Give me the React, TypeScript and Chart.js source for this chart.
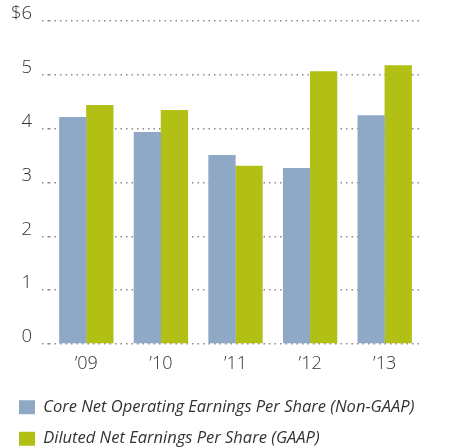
import { useEffect, useRef } from 'react';
import { Chart, registerables } from 'chart.js';

Chart.register(...registerables);

const categories = ['\u201909', '\u201910', '\u201911', '\u201912', '\u201913'];
const coreEPS = [4.22, 3.94, 3.51, 3.27, 4.25];
const dilutedEPS = [4.44, 4.35, 3.31, 5.07, 5.18];
const yTickLabels = ['0', '1', '2', '3', '4', '5', '$6'];
const seriesNames = [
  'Core Net Operating Earnings Per Share (Non-GAAP)',
  'Diluted Net Earnings Per Share (GAAP)',
];

export default function App() {
  const ref = useRef<HTMLCanvasElement | null>(null);

  useEffect(() => {
    document.body.style.margin = '0';
    document.body.style.overflow = 'hidden';
    const canvas = ref.current;
    if (!canvas) return;
    const dotted = [1.5, 4];
    const gridColor = '#8a8a8a';
    const chart = new Chart(canvas, {
      type: 'bar',
      data: {
        labels: categories,
        datasets: [
          { label: seriesNames[0], data: coreEPS, backgroundColor: '#8fa8c6', borderWidth: 0 },
          { label: seriesNames[1], data: dilutedEPS, backgroundColor: '#b2bf15', borderWidth: 0 },
        ],
      },
      options: {
        animation: false,
        responsive: false,
        devicePixelRatio: 1,
        datasets: { bar: { categoryPercentage: 0.725, barPercentage: 1.01 } },
        layout: { padding: { top: 21, left: 4, right: 41, bottom: 0 } },
        plugins: {
          tooltip: { enabled: false },
          legend: {
            position: 'bottom',
            align: 'start',
            labels: {
              boxWidth: 16,
              boxHeight: 14,
              padding: 15,
              color: '#333',
              font: { family: 'Open Sans', size: 16.5, style: 'italic', weight: 400 },
            },
          },
        },
        scales: {
          x: {
            grid: { display: false, drawTicks: false },
            border: { display: false },
            ticks: {
              color: '#333',
              padding: 9,
              font: { family: 'Open Sans', size: 18, weight: 300 },
            },
            afterFit: (scale: any) => {
              scale.height = 40;
            },
          },
          y: {
            min: 0,
            max: 6,
            border: { display: false, dash: dotted },
            grid: {
              color: gridColor,
              lineWidth: 1.5,
              drawTicks: true,
              tickLength: 7,
              tickBorderDash: dotted,
              tickColor: gridColor,
              tickWidth: 1.5,
            },
            ticks: {
              stepSize: 1,
              padding: 10,
              labelOffset: -7,
              color: '#333',
              font: { family: 'Open Sans', size: 18.5, weight: 300 },
              callback: (_v: any, i: number) => yTickLabels[i],
            },
            afterFit: (scale: any) => {
              scale.width = 45;
            },
          },
        },
      },
    });
    return () => chart.destroy();
  }, []);

  return (
    <div style={{ width: 463, height: 448, overflow: 'hidden' }}>
      <canvas ref={ref} width={463} height={457} style={{ display: 'block', width: 463, height: 457 }} />
    </div>
  );
}
